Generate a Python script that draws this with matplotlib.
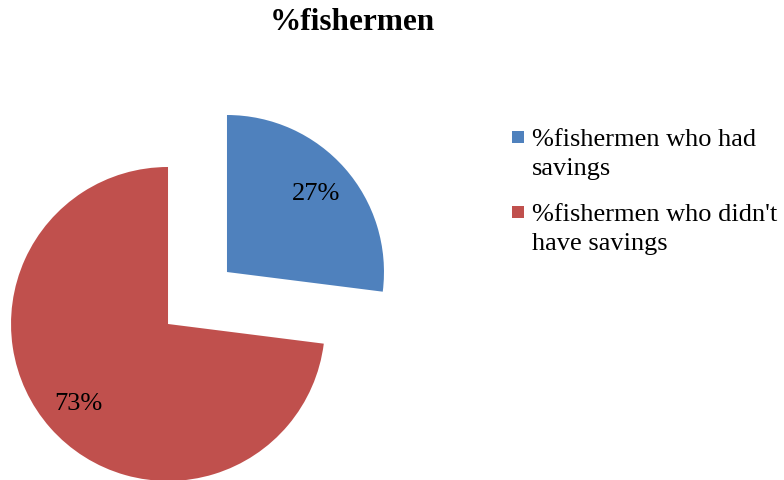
import matplotlib
matplotlib.use('Agg')
import matplotlib.pyplot as plt
from matplotlib.patches import Rectangle

# Savings split among fishermen
labels = ["%fishermen who had\nsavings", "%fishermen who didn't\nhave savings"]
shares = [27, 73]
colors = ['#4F81BD', '#C0504D']

plt.rcParams['font.family'] = ['Liberation Serif', 'DejaVu Serif']

fig = plt.figure(figsize=(7.84, 4.81), dpi=100)
W, H = 784, 481

# axes in pixel units so the pie can be placed exactly
ax = fig.add_axes([0, 0, 1, 1])
# explode is in data units here (pixels), both slices pulled apart
ax.pie(shares, colors=colors, startangle=90, counterclock=False,
       explode=[39.3, 39.3], center=(197.5, H - 299), radius=157,
       autopct='%d%%', pctdistance=0.76,
       textprops={'fontsize': 19, 'color': 'black'},
       wedgeprops={'linewidth': 0})
ax.set_xlim(0, W)
ax.set_ylim(0, H)
ax.set_aspect('equal')
ax.axis('off')

# title
fig.text(352 / W, 1 - 22 / H, '%fishermen', ha='center', va='center',
         fontsize=22.5, fontweight='bold')

# legend drawn by hand: square + wrapped label
legend_tops = [129, 204]
for top, lab, col in zip(legend_tops, labels, colors):
    fig.patches.append(Rectangle((512 / W, 1 - (top + 15) / H), 12 / W, 12 / H,
                                 transform=fig.transFigure, facecolor=col,
                                 edgecolor='none'))
    fig.text(532 / W, 1 - top / H, lab, ha='left', va='top',
             fontsize=19, linespacing=1.42)

fig.savefig('out.png', dpi=100)
